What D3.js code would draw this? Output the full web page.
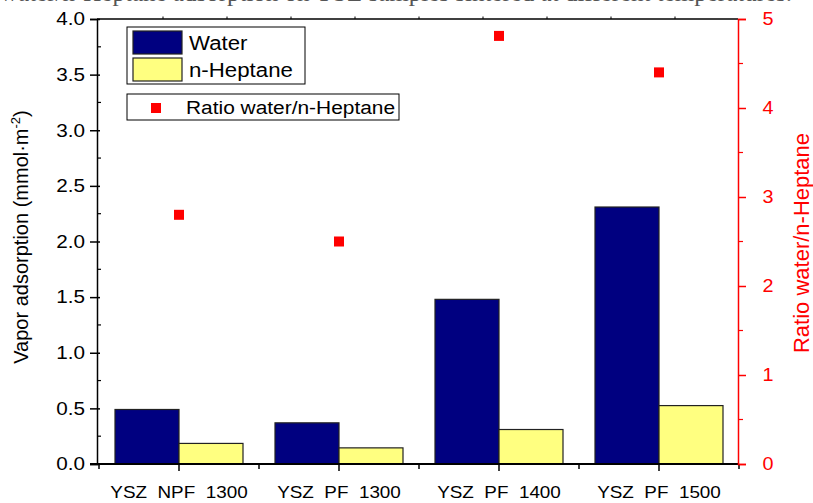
<!DOCTYPE html>
<html>
<head>
<meta charset="utf-8">
<script src="https://cdn.jsdelivr.net/npm/d3@7"></script>
<style>
  html, body { margin: 0; padding: 0; background: #fff; }
  svg { display: block; }
  text { font-family: "Liberation Sans", Arial, sans-serif; }
</style>
</head>
<body>
<svg id="chart" width="813" height="503"></svg>
<script>
// Samples (x categories)
const categories = ["YSZ  NPF  1300", "YSZ  PF  1300", "YSZ  PF  1400", "YSZ  PF  1500"];
// Vapor adsorption, mmol·m^-2
const water = [0.49, 0.37, 1.48, 2.31];
const heptane = [0.185, 0.145, 0.31, 0.525];
// Ratio water / n-heptane (right axis)
const ratio = [2.80, 2.50, 4.81, 4.40];
// Tick labels
const leftTicks = [0, 0.5, 1.0, 1.5, 2.0, 2.5, 3.0, 3.5, 4.0];
const rightTicks = [0, 1, 2, 3, 4, 5];
const seriesNames = ["Water", "n-Heptane"];
const seriesColors = ["#000080", "#ffff80"];

(function () {
  const svg = d3.select("#chart");
  const pL = 97, pR = 738, pT = 19, pB = 464;
  const red = "#ff0000";

  // Widen horizontal text slightly (the labels use a wide sans face)
  function stretch(sel, s) {
    sel.each(function () {
      const t = d3.select(this);
      const x0 = +t.attr("x") || 0;
      t.attr("x", x0 / s).attr("transform", `scale(${s},1)`);
    });
  }

  // Caption line running off the top edge
  svg.append("text")
    .attr("x", 0).attr("y", 1.2)
    .style("font-family", "'Liberation Serif', 'Times New Roman', serif")
    .style("font-size", "25px")
    .attr("fill", "#555")
    .text("water/n-Heptane adsorption on YSZ samples sintered at different temperatures.");

  const x = d3.scaleBand().domain(categories).range([99, 739]).paddingInner(0.2).paddingOuter(0.1);
  const x1 = d3.scaleBand().domain(seriesNames).range([0, x.bandwidth()]);
  const y = d3.scaleLinear().domain([0, 4]).range([pB, pT]);
  const yR = d3.scaleLinear().domain([0, 5]).range([pB, pT]);

  // Bars
  const groups = svg.append("g").selectAll("g").data(categories).join("g")
    .attr("transform", d => `translate(${x(d)},0)`);
  groups.selectAll("rect")
    .data((d, i) => [
      { s: seriesNames[0], v: water[i], c: seriesColors[0] },
      { s: seriesNames[1], v: heptane[i], c: seriesColors[1] }
    ])
    .join("rect")
    .attr("x", d => x1(d.s))
    .attr("width", x1.bandwidth())
    .attr("y", d => y(d.v))
    .attr("height", d => y(0) - y(d.v))
    .attr("fill", d => d.c)
    .attr("stroke", "#222")
    .attr("stroke-width", 1.2);

  // Frame: top edge with small ticks
  svg.append("line").attr("x1", pL).attr("x2", pR).attr("y1", pT).attr("y2", pT)
    .attr("stroke", "#000").attr("stroke-width", 1.5);
  const xTop = d3.scaleLinear().domain([0, 10]).range([99, 739]);
  svg.append("g").selectAll("line").data(d3.range(1, 10)).join("line")
    .attr("x1", d => xTop(d)).attr("x2", d => xTop(d))
    .attr("y1", pT).attr("y2", pT - 2.5)
    .attr("stroke", "#000").attr("stroke-width", 1);

  // Left axis
  const gL = svg.append("g").attr("transform", `translate(${pL},0)`)
    .call(d3.axisLeft(y).tickValues(leftTicks).tickSize(7).tickPadding(5)
      .tickFormat(d3.format(".1f")));
  gL.select(".domain").attr("stroke", "#000").attr("stroke-width", 1.5);
  gL.selectAll(".tick line").attr("stroke", "#000").attr("stroke-width", 1.5).attr("x2", -7).attr("x1", 3);
  gL.selectAll(".tick text").style("font-size", "18px").attr("fill", "#000");
  stretch(gL.selectAll(".tick text"), 1.15);
  // minor ticks (inside)
  svg.append("g").selectAll("line").data(d3.range(0.25, 4, 0.5)).join("line")
    .attr("x1", pL).attr("x2", pL + 4)
    .attr("y1", d => y(d)).attr("y2", d => y(d))
    .attr("stroke", "#000").attr("stroke-width", 1.2);

  // Bottom axis
  const gB = svg.append("g").attr("transform", `translate(0,${pB})`)
    .call(d3.axisBottom(x).tickSize(7).tickPadding(16)
      .tickFormat(d => d.replace(/ /g, "\u00a0")));
  gB.select(".domain").remove();
  svg.append("line").attr("x1", pL - 7).attr("x2", pR).attr("y1", pB).attr("y2", pB)
    .attr("stroke", "#000").attr("stroke-width", 2);
  gB.selectAll(".tick line").attr("stroke", "#000").attr("stroke-width", 1.5);
  gB.selectAll(".tick text").style("font-size", "16px").attr("fill", "#000");
  stretch(gB.selectAll(".tick text"), 1.18);
  // boundary ticks between samples
  svg.append("g").selectAll("line")
    .data(d3.range(categories.length + 1).map(i => 99 + i * x.step()))
    .join("line")
    .attr("x1", d => d).attr("x2", d => d)
    .attr("y1", pB).attr("y2", pB + 5)
    .attr("stroke", "#000").attr("stroke-width", 1.5);

  // Right axis (ratio)
  const gR = svg.append("g").attr("transform", `translate(${pR},0)`)
    .call(d3.axisRight(yR).tickValues(rightTicks).tickSize(8).tickPadding(22)
      .tickFormat(d3.format("d")));
  gR.select(".domain").attr("stroke", red).attr("stroke-width", 1.5);
  gR.selectAll(".tick line").attr("stroke", red).attr("stroke-width", 1.5);
  gR.selectAll(".tick text").style("font-size", "18px").attr("fill", red).attr("text-anchor", "middle");
  stretch(gR.selectAll(".tick text"), 1.1);
  svg.append("g").selectAll("line").data(d3.range(0.5, 5, 1)).join("line")
    .attr("x1", pR).attr("x2", pR + 5)
    .attr("y1", d => yR(d)).attr("y2", d => yR(d))
    .attr("stroke", red).attr("stroke-width", 1.2);

  // Ratio markers
  svg.append("g").selectAll("rect").data(ratio).join("rect")
    .attr("x", (d, i) => x(categories[i]) + x.bandwidth() / 2 - 5)
    .attr("y", d => yR(d) - 5)
    .attr("width", 10).attr("height", 10)
    .attr("fill", red);

  // Axis titles
  const lt = svg.append("text")
    .attr("transform", "translate(28,237) rotate(-90)")
    .attr("text-anchor", "middle")
    .style("font-size", "20px").attr("fill", "#000");
  lt.append("tspan").text("Vapor adsorption (mmol·m");
  lt.append("tspan").text("-2").attr("dy", -8).style("font-size", "13px");
  lt.append("tspan").text(")").attr("dy", 8);

  svg.append("text")
    .attr("transform", "translate(809,243) rotate(-90)")
    .attr("text-anchor", "middle")
    .style("font-size", "22px").attr("fill", red)
    .text("Ratio water/n-Heptane");

  // Legends
  const lg = svg.append("g");
  lg.append("rect").attr("x", 127).attr("y", 27).attr("width", 178).attr("height", 57)
    .attr("fill", "#fff").attr("stroke", "#000").attr("stroke-width", 1);
  seriesNames.forEach((s, i) => {
    lg.append("rect").attr("x", 133).attr("y", 31 + i * 27).attr("width", 49).attr("height", 23)
      .attr("fill", seriesColors[i]).attr("stroke", "#222").attr("stroke-width", 1.2);
    const t = lg.append("text").attr("x", 189).attr("y", 50 + i * 27)
      .style("font-size", "21px").attr("fill", "#000").text(s);
    stretch(t, 1.06);
  });
  lg.append("rect").attr("x", 127).attr("y", 94).attr("width", 272).attr("height", 26)
    .attr("fill", "#fff").attr("stroke", "#000").attr("stroke-width", 1);
  lg.append("rect").attr("x", 151).attr("y", 103).attr("width", 10).attr("height", 10).attr("fill", red);
  const rt = lg.append("text").attr("x", 186).attr("y", 114)
    .style("font-size", "19px").attr("fill", "#000").text("Ratio water/n-Heptane");
  stretch(rt, 1.1);
})();
</script>
</body>
</html>
